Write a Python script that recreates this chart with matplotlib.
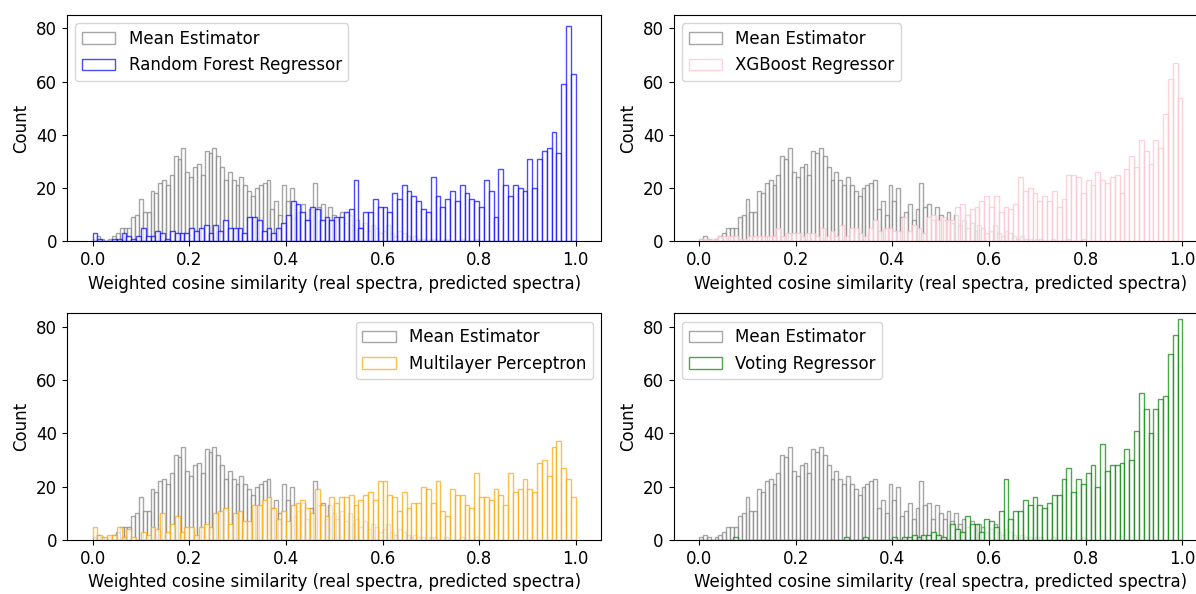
import numpy as np
import matplotlib
matplotlib.use("Agg")
import matplotlib.pyplot as plt

# histogram counts (100 bins per series)
mean_counts = [1, 2, 1, 0, 1, 2, 3, 5, 5, 5, 9, 10, 16, 11, 11, 19, 18, 22, 23, 21,
               25, 32, 31, 35, 26, 24, 28, 29, 25, 34, 33, 35, 32, 28, 23, 26, 23, 21, 24, 21,
               19, 17, 20, 21, 22, 23, 12, 15, 10, 21, 15, 20, 9, 11, 14, 8, 12, 22, 13, 14,
               8, 13, 10, 8, 11, 7, 10, 6, 8, 5, 7, 4, 6, 5, 3, 4, 6, 3, 2, 4,
               3, 2, 1, 2, 1, 1, 0, 1, 1, 0, 0, 1, 0, 0, 0, 1, 0, 0, 0, 1]
mean_range = (0.0, 0.8)

rf_counts = [3, 1, 0, 0, 1, 1, 3, 2, 1, 2, 5, 2, 2, 4, 3, 1, 4, 3, 3, 3,
             5, 4, 5, 6, 3, 6, 4, 8, 5, 5, 5, 3, 9, 9, 8, 4, 5, 3, 5, 7,
             10, 15, 14, 11, 8, 13, 12, 8, 9, 8, 9, 9, 11, 12, 23, 5, 11, 11, 16, 13,
             13, 11, 18, 16, 21, 19, 17, 15, 12, 11, 24, 17, 13, 16, 19, 15, 21, 18, 16, 15,
             13, 23, 19, 9, 27, 21, 17, 21, 20, 19, 31, 20, 31, 34, 35, 41, 33, 59, 81, 63]

xgb_counts = [1, 1, 1, 1, 2, 2, 2, 2, 1, 1, 2, 2, 2, 2, 2, 2, 5, 2, 3, 3,
              3, 2, 3, 3, 2, 5, 2, 4, 2, 6, 2, 5, 5, 3, 2, 5, 8, 4, 5, 5,
              4, 4, 9, 4, 6, 5, 3, 9, 10, 8, 9, 8, 8, 13, 14, 10, 12, 13, 15, 17,
              13, 17, 11, 13, 12, 14, 24, 19, 20, 18, 15, 17, 15, 19, 13, 16, 25, 25, 24, 18,
              23, 21, 26, 23, 22, 24, 25, 18, 27, 32, 28, 38, 34, 29, 38, 35, 48, 61, 67, 54]

mlp_counts = [5, 2, 1, 2, 2, 5, 1, 4, 1, 0, 3, 2, 5, 4, 10, 3, 6, 9, 3, 5,
              5, 2, 5, 6, 5, 10, 11, 12, 6, 10, 11, 7, 7, 13, 13, 15, 16, 12, 8, 11,
              7, 13, 14, 15, 12, 10, 19, 13, 9, 16, 14, 16, 16, 17, 13, 15, 17, 18, 15, 22,
              22, 17, 16, 11, 18, 12, 14, 14, 20, 19, 14, 22, 11, 9, 19, 17, 17, 13, 12, 25,
              16, 16, 15, 19, 17, 13, 25, 18, 19, 23, 19, 18, 29, 30, 24, 35, 37, 27, 23, 16]

vote_counts = [0, 0, 0, 0, 0, 0, 0, 1, 0, 0, 0, 0, 0, 0, 0, 0, 0, 0, 0, 0,
               0, 0, 0, 0, 0, 0, 0, 0, 0, 0, 1, 0, 0, 0, 1, 0, 0, 0, 0, 0,
               1, 0, 1, 1, 2, 1, 2, 2, 3, 2, 1, 0, 6, 4, 3, 9, 6, 6, 3, 8,
               7, 5, 11, 23, 8, 11, 11, 15, 13, 16, 13, 12, 14, 17, 17, 23, 27, 18, 23, 21,
               25, 28, 20, 36, 26, 28, 28, 29, 34, 30, 41, 55, 49, 40, 49, 53, 54, 70, 77, 83]
model_range = (0.0, 1.0)

models = [("Random Forest Regressor", rf_counts, "blue", "upper left"),
          ("XGBoost Regressor", xgb_counts, "pink", "upper left"),
          ("Multilayer Perceptron", mlp_counts, "orange", "upper right"),
          ("Voting Regressor", vote_counts, "green", "upper left")]

plt.rcParams['font.size'] = 12

fig, axes = plt.subplots(2, 2, figsize=(11.96, 5.94), dpi=100)
fig.subplots_adjust(left=0.056, right=1.010, top=0.975, bottom=0.091,
                    wspace=0.135, hspace=0.318)

mean_edges = np.linspace(mean_range[0], mean_range[1], len(mean_counts) + 1)

for ax, (name, counts, color, loc) in zip(axes.flat, models):
    edges = np.linspace(model_range[0], model_range[1], len(counts) + 1)
    ax.hist(mean_edges[:-1], bins=mean_edges, weights=mean_counts, alpha=0.7,
            facecolor='white', edgecolor='gray', linewidth=1.0, label='Mean Estimator')
    ax.hist(edges[:-1], bins=edges, weights=counts, alpha=0.7,
            facecolor='white', edgecolor=color, linewidth=1.0, label=name)
    ax.set_xlim(-0.053, 1.053)
    ax.set_ylim(0, 85.05)
    ax.set_yticks([0, 20, 40, 60, 80])
    ax.set_xlabel('Weighted cosine similarity (real spectra, predicted spectra)')
    ax.set_ylabel('Count')
    ax.legend(loc=loc)

fig.savefig('out.png', dpi=100)
